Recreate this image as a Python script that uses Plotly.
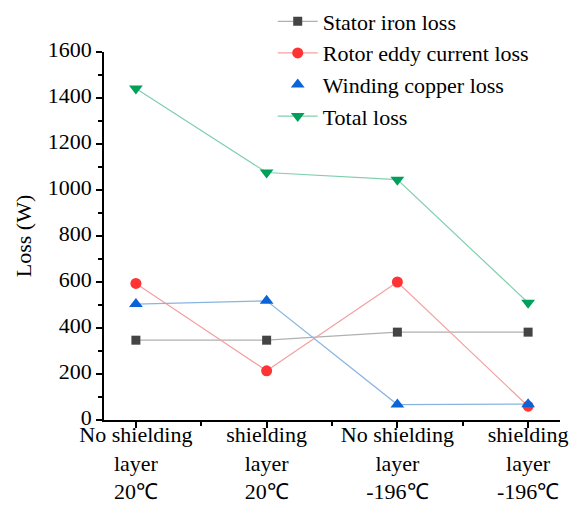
import plotly.graph_objects as go

categories = ["No shielding<br>layer<br>20℃", "shielding<br>layer<br>20℃",
              "No shielding<br>layer<br>-196℃", "shielding<br>layer<br>-196℃"]
stator_iron = [347, 347, 382, 382]
rotor_eddy = [594, 214, 600, 60]
winding_copper = [504, 518, 67, 69]
total_loss = [1441, 1076, 1045, 510]
y_ticks = [0, 200, 400, 600, 800, 1000, 1200, 1400, 1600]

x = list(range(len(categories)))
font = "Times New Roman"

fig = go.Figure()
series = [
    ("Stator iron loss", stator_iron, "#444444", "#b0b0b0", "square", 9),
    ("Rotor eddy current loss", rotor_eddy, "#ff3333", "#f4a0a0", "circle", 11),
    ("Winding copper loss", winding_copper, "#0a64d8", "#8ab4e0", "triangle-up", 12),
    ("Total loss", total_loss, "#00a05a", "#80cfae", "triangle-down", 12),
]
rank = 0
for name, vals, mc, lc, sym, sz in series:
    show = name != "Winding copper loss"
    rank += 1
    fig.add_trace(go.Scatter(x=x, y=vals, mode="lines+markers", name=name,
                             showlegend=show, legendrank=rank,
                             line=dict(color=lc, width=1.2),
                             marker=dict(color=mc, symbol=sym, size=sz)))
    if not show:
        fig.add_trace(go.Scatter(x=[None], y=[None], mode="markers", name=name,
                                 legendrank=rank,
                                 marker=dict(color=mc, symbol=sym, size=sz)))

fig.update_layout(
    width=577, height=516,
    margin=dict(l=104, r=17, t=52, b=96, autoexpand=False),
    plot_bgcolor="white", paper_bgcolor="white",
    font=dict(family=font, size=22, color="black"),
    showlegend=True,
    legend=dict(x=0.37, y=1.14, xanchor="left", yanchor="top",
                bgcolor="rgba(0,0,0,0)", font=dict(size=22, family=font),
                tracegroupgap=0, itemwidth=40),
    xaxis=dict(range=[-0.244, 3.244], tickvals=x, ticktext=categories,
               automargin=False, ticklabelstandoff=-12,
               showgrid=False, zeroline=False, showline=True, linecolor="black",
               linewidth=1.5, ticks="outside", ticklen=6, tickcolor="black",
               tickwidth=1.5, tickangle=0,
               minor=dict(tickvals=[0.5, 1.5, 2.5], ticks="outside", ticklen=4,
                          tickcolor="black", tickwidth=1.5),
               tickfont=dict(size=22, family=font)),
    yaxis=dict(range=[0, 1600], tickvals=y_ticks, showgrid=False, zeroline=False,
               automargin=False, ticklabelshift=-3,
               showline=True, linecolor="black", linewidth=1.5,
               ticks="outside", ticklen=6, tickcolor="black", tickwidth=1.5,
               minor=dict(dtick=100, ticks="outside", ticklen=4,
                          tickcolor="black", tickwidth=1.5),
               title=dict(text="Loss (W)", font=dict(size=22, family=font), standoff=10),
               tickfont=dict(size=22, family=font)),
)

fig.write_html("out.html")
